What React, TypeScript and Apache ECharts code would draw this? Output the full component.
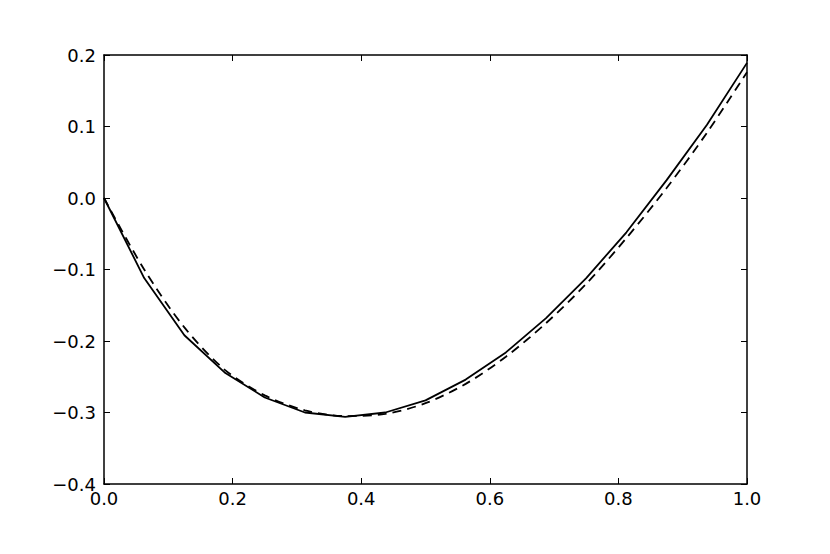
import React, { useEffect, useRef } from "react";
import * as echarts from "echarts";

const xValues = [0, 0.0625, 0.125, 0.1875, 0.25, 0.3125, 0.375, 0.4375, 0.5, 0.5625, 0.625, 0.6875, 0.75, 0.8125, 0.875, 0.9375, 1.0];
const solidValues = [0, -0.112, -0.192, -0.244, -0.279, -0.300, -0.306, -0.300, -0.283, -0.254, -0.216, -0.168, -0.112, -0.048, 0.025, 0.102, 0.189];
const dashedValues = [0, -0.100, -0.181, -0.240, -0.276, -0.297, -0.305, -0.302, -0.287, -0.260, -0.222, -0.175, -0.120, -0.056, 0.014, 0.091, 0.176];

const fmt = (v: number) => {
  const s = Math.abs(v).toFixed(1);
  return v < -1e-9 ? "\u2212" + s : s;
};

export default function App() {
  const ref = useRef<HTMLDivElement>(null);
  useEffect(() => {
    if (!ref.current) return;
    const chart = echarts.init(ref.current, null, { renderer: "svg" });
    const font = { fontFamily: "DejaVu Sans", fontSize: 18, color: "#000" };
    const tick = { show: true, inside: true, length: 6, lineStyle: { color: "#000", width: 1 } };
    const line = { show: true, onZero: false, lineStyle: { color: "#000", width: 1.5 } };
    chart.setOption({
      animation: false,
      backgroundColor: "#fff",
      grid: { left: 104, right: 83, top: 55, bottom: 70, containLabel: false },
      xAxis: [
        {
          type: "value", min: 0, max: 1, interval: 0.2, position: "bottom",
          axisLine: line, axisTick: tick, splitLine: { show: false },
          axisLabel: { ...font, margin: 5, formatter: fmt },
        },
        {
          type: "value", min: 0, max: 1, interval: 0.2, position: "top",
          axisLine: line, axisTick: tick, splitLine: { show: false },
          axisLabel: { show: false },
        },
      ],
      yAxis: [
        {
          type: "value", min: -0.4, max: 0.2, interval: 0.1, position: "left",
          axisLine: line, axisTick: tick, splitLine: { show: false },
          axisLabel: { ...font, margin: 8, formatter: fmt },
        },
        {
          type: "value", min: -0.4, max: 0.2, interval: 0.1, position: "right",
          axisLine: line, axisTick: tick, splitLine: { show: false },
          axisLabel: { show: false },
        },
      ],
      series: [
        {
          type: "line",
          data: xValues.map((x, i) => [x, solidValues[i]]),
          showSymbol: false,
          lineStyle: { color: "#000", width: 1.8, type: "solid" },
          z: 3,
        },
        {
          type: "line",
          data: xValues.map((x, i) => [x, dashedValues[i]]),
          showSymbol: false,
          smooth: 0.3,
          lineStyle: { color: "#000", width: 1.8, type: [9, 6] },
          z: 3,
        },
      ],
    });
    return () => chart.dispose();
  }, []);
  return (
    <div
      ref={ref}
      style={{ position: "fixed", left: 0, top: 0, width: 830, height: 554, background: "#fff" }}
    />
  );
}
